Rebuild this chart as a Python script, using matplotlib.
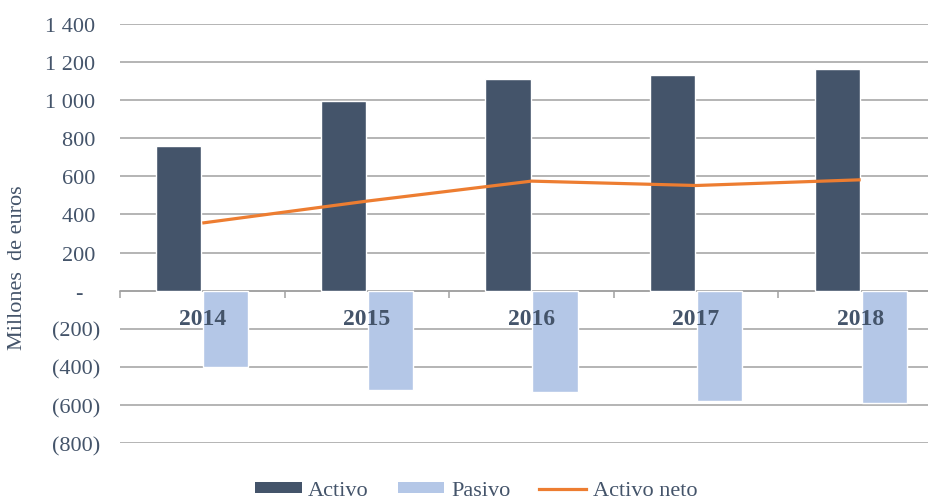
import matplotlib
matplotlib.use("Agg")
import matplotlib.pyplot as plt
import numpy as np
from matplotlib.patches import Patch
from matplotlib.lines import Line2D

years = ["2014", "2015", "2016", "2017", "2018"]
activo = [762, 997, 1110, 1133, 1163]
pasivo = [-402, -522, -531, -580, -588]
activo_neto = [355, 470, 575, 552, 582]

yticks = [-800, -600, -400, -200, 0, 200, 400, 600, 800, 1000, 1200, 1400]

C_ACT = "#44546A"
C_PAS = "#B4C7E7"
C_NET = "#ED7D31"
C_TXT = "#44546A"

plt.rcParams["font.family"] = ["Liberation Serif", "DejaVu Serif"]

fig = plt.figure(figsize=(9.29, 5.02), dpi=100)
ax = fig.add_axes([120/929, 58/502, (943-120)/929, (444-25)/502])

x = np.arange(len(years))
w = 0.275
off = 0.143
ax.bar(x - off, activo, width=w, color=C_ACT, edgecolor="white", linewidth=1, zorder=3)
ax.bar(x + off, pasivo, width=w, color=C_PAS, edgecolor="white", linewidth=1, zorder=3)
ax.plot(x, activo_neto, color=C_NET, linewidth=2.3, zorder=4, solid_capstyle="butt")

ax.set_xlim(-0.5, 4.5)
ax.set_ylim(-800, 1400)

def fmt(v):
    if v == 0:
        return "-   "
    if v < 0:
        return "(" + f"{-v:,}".replace(",", " ") + ")"
    return f"{v:,}".replace(",", " ") + " "

ax.set_yticks(yticks)
ax.set_yticklabels([fmt(v) for v in yticks])
ax.tick_params(axis="y", length=0, pad=14, labelsize=16, labelcolor=C_TXT)
ax.yaxis.grid(True, color="#A0A0A0", linewidth=1.1, zorder=0)
ax.set_axisbelow(True)

for s in ["top", "right", "left"]:
    ax.spines[s].set_visible(False)
ax.spines["bottom"].set_position(("data", 0))
ax.spines["bottom"].set_color("#A0A0A0")
ax.spines["bottom"].set_linewidth(1.1)
ax.spines["bottom"].set_zorder(2)

ax.set_xticks(np.arange(-0.5, 5.0, 1.0))
ax.set_xticklabels([])
ax.tick_params(axis="x", which="major", length=5, width=1.1, color="#A0A0A0", direction="out")

for xi, yr in zip(x, years):
    ax.annotate(yr, (xi, 0), xytext=(0, -12.5), textcoords="offset points",
                ha="center", va="top", fontsize=17, fontweight="bold",
                color=C_TXT, zorder=6)

fig.text(18/929, 1 - 268/502, "Millones  de euros", rotation=90, ha="center", va="center",
         fontsize=16, color=C_TXT)

handles = [Patch(facecolor=C_ACT, edgecolor="none"),
           Patch(facecolor=C_PAS, edgecolor="none"),
           Line2D([0], [0], color=C_NET, linewidth=2.3)]
fig.legend(handles, ["Activo", "Pasivo", "Activo neto"], loc="center",
           bbox_to_anchor=(476/929, 1 - 492/502), ncol=3, frameon=False,
           fontsize=16, labelcolor="#44546A", handlelength=2.1, handleheight=0.4,
           handletextpad=0.3, columnspacing=1.3)

fig.savefig("out.png", dpi=100)
